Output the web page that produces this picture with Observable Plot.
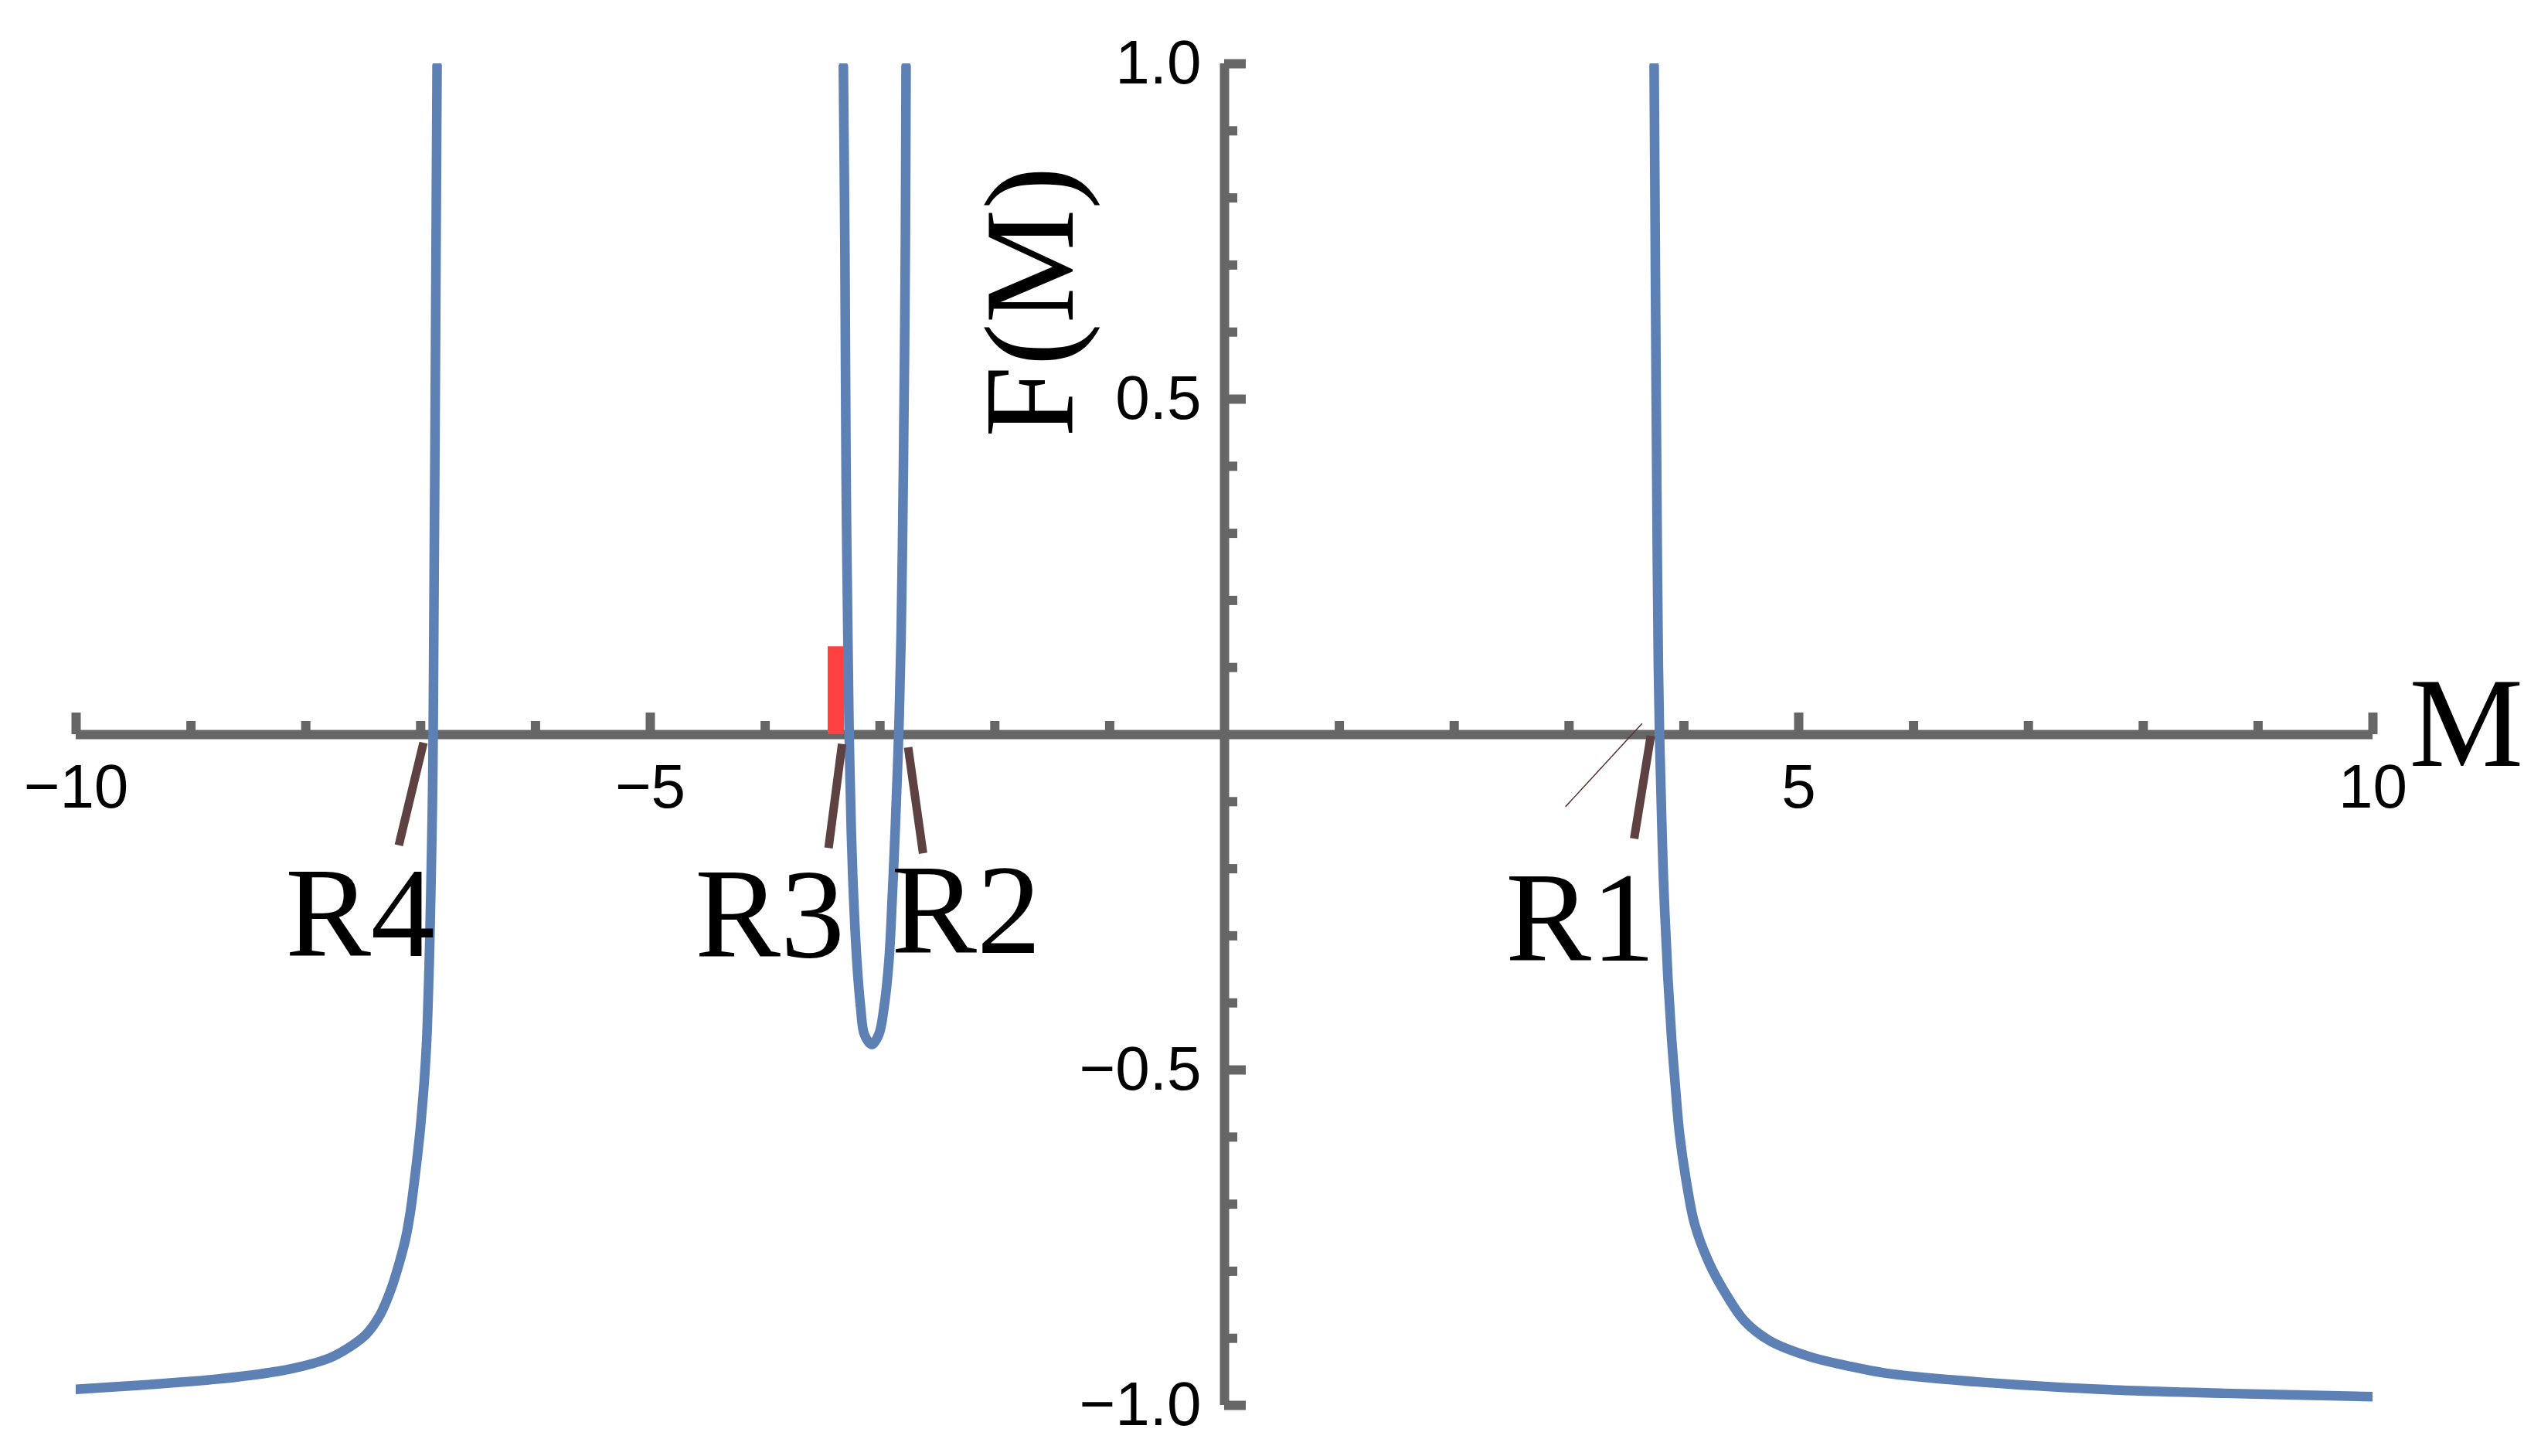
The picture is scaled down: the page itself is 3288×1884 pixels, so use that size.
<!DOCTYPE html>
<html>
<head>
<meta charset="utf-8">
<script src="https://cdn.jsdelivr.net/npm/d3@7"></script>
<script src="https://cdn.jsdelivr.net/npm/@observablehq/plot@0.6"></script>
<style>
  html, body { margin: 0; padding: 0; background: #ffffff; }
  #chart svg { display: block; }
</style>
</head>
<body>
<div id="chart"></div>
<script>
// ---- Curve F(M): three visible branches ----
const leftM  = [-10.0, -9.451, -8.782, -8.237, -8.013, -7.788, -7.609, -7.474, -7.350, -7.256, -7.185, -7.128, -7.088, -7.059, -7.032, -7.007, -6.987, -6.969, -6.947, -6.932, -6.921, -6.904, -6.896, -6.891, -6.882, -6.873, -6.865, -6.857];
const leftF  = [-0.976, -0.970, -0.961, -0.949, -0.941, -0.929, -0.912, -0.894, -0.864, -0.826, -0.787, -0.749, -0.710, -0.672, -0.634, -0.595, -0.557, -0.518, -0.455, -0.380, -0.312, -0.169, -0.085, 0.000, 0.250, 0.500, 0.750, 0.997];

const midM   = [-3.319, -3.306, -3.300, -3.293, -3.280, -3.268, -3.250, -3.230, -3.201, -3.168, -3.136, -3.071, -3.010, -2.966, -2.923, -2.893, -2.868, -2.838, -2.816, -2.800, -2.788, -2.779, -2.773];
const midF   = [0.996, 0.733, 0.538, 0.343, 0.148, -0.003, -0.144, -0.242, -0.339, -0.408, -0.447, -0.462, -0.447, -0.408, -0.339, -0.242, -0.144, -0.003, 0.148, 0.343, 0.538, 0.733, 0.996];

const rightM = [3.741, 3.750, 3.759, 3.768, 3.778, 3.788, 3.797, 3.822, 3.862, 3.894, 3.923, 3.962, 4.027, 4.094, 4.218, 4.352, 4.527, 4.751, 5.088, 5.424, 5.760, 6.557, 7.629, 8.703, 10.0];
const rightF = [0.997, 0.750, 0.500, 0.280, 0.100, 0.000, -0.060, -0.214, -0.366, -0.455, -0.518, -0.595, -0.672, -0.730, -0.787, -0.830, -0.874, -0.904, -0.927, -0.941, -0.952, -0.965, -0.976, -0.982, -0.987];

// ---- Highlight bar (red) ----
const redM = [-3.385];
const redTop = [0.131];

// ---- Root labels and their pointer segments ----
const rootNames = ["R4", "R3", "R2", "R1"];
const rootLabelM = [-7.527, -3.96, -2.25, 3.10];
const rootLabelF = [-0.330, -0.331, -0.325, -0.337];
const ptrM1 = [-6.975, -3.330, -2.755, 3.712];
const ptrF1 = [-0.012, -0.014, -0.019, -0.002];
const ptrM2 = [-7.190, -3.448, -2.625, 3.567];
const ptrF2 = [-0.165, -0.169, -0.177, -0.155];
const thinM = [3.634, 2.972];
const thinF = [0.016, -0.107];

// ---- Axes ticks ----
const xMajor = [-10, -5, 5, 10];
const xMajorLabels = ["\u221210", "\u22125", "5", "10"];
const xMinor = [-9, -8, -7, -6, -4, -3, -2, -1, 1, 2, 3, 4, 6, 7, 8, 9];
const yMajor = [-1, -0.5, 0.5, 1];
const yMajorLabels = ["\u22121.0", "\u22120.5", "0.5", "1.0"];
const yMinor = [-0.9, -0.8, -0.7, -0.6, -0.4, -0.3, -0.2, -0.1, 0.1, 0.2, 0.3, 0.4, 0.6, 0.7, 0.8, 0.9];

// ---- Axis titles ----
const xTitle = "M";
const yTitle = "F(M)";

// build tables
const toRows = (ms, fs, branch) => ms.map((m, i) => ({m, f: fs[i], branch}));
const curve = [...toRows(leftM, leftF, "L"), ...toRows(midM, midF, "C"), ...toRows(rightM, rightF, "R")];
const roots = rootNames.map((name, i) => ({
  name, lm: rootLabelM[i], lf: rootLabelF[i],
  m1: ptrM1[i], f1: ptrF1[i], m2: ptrM2[i], f2: ptrF2[i]
}));

const AXIS = "#666666";
const BLUE = "#5E81B5";
const BROWN = "#5E4141";
const SERIF = "'Liberation Serif', 'Times New Roman', serif";
const SANS = "'Liberation Sans', Arial, sans-serif";

const plot = Plot.plot({
  width: 3288,
  height: 1884,
  marginLeft: 98,
  marginRight: 218,
  marginTop: 82,
  marginBottom: 66,
  x: {domain: [-10, 10], axis: null},
  y: {domain: [-1, 1], axis: null},
  style: {background: "#ffffff", overflow: "visible"},
  marks: [
    // axis lines
    Plot.ruleY([0], {x1: -10, x2: 10, stroke: AXIS, strokeWidth: 12}),
    Plot.ruleX([0], {y1: -1, y2: 1, stroke: AXIS, strokeWidth: 12}),
    // x ticks (pointing up)
    Plot.ruleX(xMajor, {x: d => d, y1: 0, y2: 0, insetTop: -28, stroke: AXIS, strokeWidth: 12}),
    Plot.ruleX(xMinor, {x: d => d, y1: 0, y2: 0, insetTop: -17, stroke: AXIS, strokeWidth: 12}),
    // y ticks (pointing right)
    Plot.ruleY(yMajor, {y: d => d, x1: 0, x2: 0, insetRight: -28, stroke: AXIS, strokeWidth: 12}),
    Plot.ruleY(yMinor, {y: d => d, x1: 0, x2: 0, insetRight: -17, stroke: AXIS, strokeWidth: 12}),
    // tick labels
    Plot.text(xMajor, {x: d => d, y: 0, text: (d, i) => xMajorLabels[i], dy: 38, lineAnchor: "top",
      textAnchor: "middle", fontSize: 80, fontFamily: SANS, fill: "#000"}),
    Plot.text(yMajor, {x: 0, y: d => d, text: (d, i) => yMajorLabels[i], dx: -30, lineAnchor: "middle",
      textAnchor: "end", fontSize: 80, fontFamily: SANS, fill: "#000"}),
    // red highlight
    Plot.ruleX(redM, {x: d => d, y1: 0, y2: (d, i) => redTop[i], stroke: "#FF4141", strokeWidth: 21}),
    // curve
    Plot.line(curve, {x: "m", y: "f", z: "branch", stroke: BLUE, strokeWidth: 12.5,
      curve: "catmull-rom", clip: true}),
    // pointers
    Plot.link(roots, {x1: "m1", y1: "f1", x2: "m2", y2: "f2", stroke: BROWN, strokeWidth: 11}),
    Plot.line(thinM.map((m, i) => ({m, f: thinF[i]})), {x: "m", y: "f", stroke: "#5a3030", strokeWidth: 1.5}),
    // root labels
    Plot.text(roots, {x: "lm", y: "lf", text: "name", lineAnchor: "bottom", textAnchor: "middle",
      fontSize: 166, fontFamily: SERIF, fill: "#000"}),
    // axis titles
    Plot.text([xTitle], {x: 10.316, y: -0.047, text: d => d, lineAnchor: "bottom", textAnchor: "start",
      fontSize: 166, fontFamily: SERIF, fill: "#000"}),
    Plot.text([yTitle], {x: -1.319, y: 0.645, text: d => d, rotate: -90, lineAnchor: "bottom",
      textAnchor: "middle", fontSize: 166, fontFamily: SERIF, fill: "#000"})
  ]
});

document.getElementById("chart").appendChild(plot);
</script>
</body>
</html>
